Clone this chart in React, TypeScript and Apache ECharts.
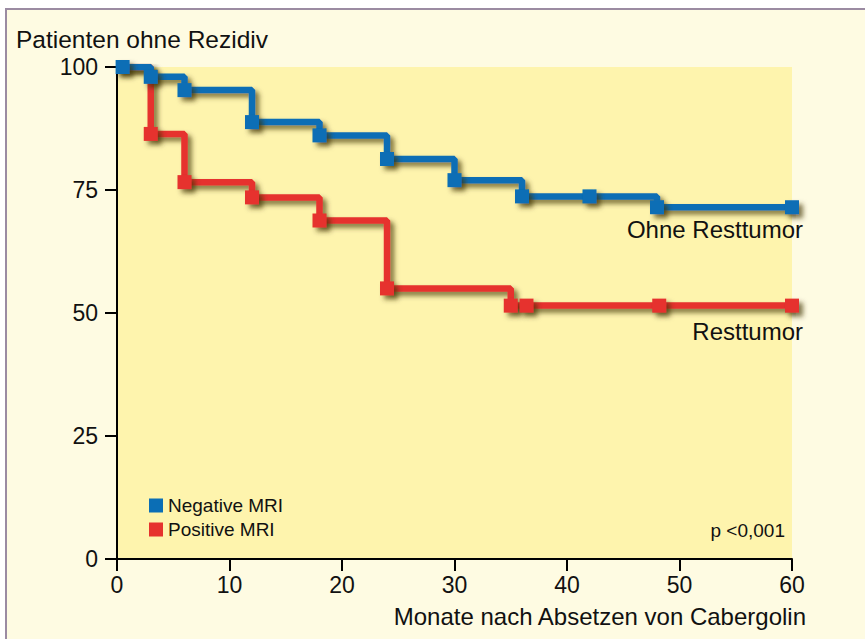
import React, { useEffect, useRef } from "react";
import * as echarts from "echarts";

// Months after stopping cabergoline
const negTimes = [0, 0.5, 3, 6, 12, 18, 24, 30, 36, 42, 48, 60];
const negValues = [100, 100, 98.0, 95.3, 88.8, 86.1, 81.3, 77.0, 73.7, 73.7, 71.5, 71.5];
const negMarks = [false, true, true, true, true, true, true, true, true, true, true, true];

const posTimes = [0, 3, 6, 12, 18, 24, 35, 36.4, 48.2, 60];
const posValues = [100, 86.4, 76.6, 73.5, 68.8, 55.0, 51.5, 51.5, 51.5, 51.5];
const posMarks = [false, true, true, true, true, true, true, true, true, true];

const xTicks = [0, 10, 20, 30, 40, 50, 60];
const yTicks = [0, 25, 50, 75, 100];

const seriesNames = ["Negative MRI", "Positive MRI"];
const curveLabels = ["Ohne Resttumor", "Resttumor"];
const titleText = "Patienten ohne Rezidiv";
const xAxisTitle = "Monate nach Absetzen von Cabergolin";
const pText = "p <0,001";

const BLUE = "#0B6EB5";
const RED = "#E6332D";
const FONT = "Liberation Sans, Arial, Helvetica, sans-serif";

function buildData(times: number[], values: number[], marks: boolean[]) {
  return times.map((t, i) =>
    marks[i] ? { value: [t, values[i]] } : { value: [t, values[i]], symbol: "none" }
  );
}

export default function App() {
  const ref = useRef<HTMLDivElement>(null);

  useEffect(() => {
    if (!ref.current) return;
    const chart = echarts.init(ref.current, undefined, { renderer: "svg" });
    const shadow = {
      shadowColor: "rgba(60,50,0,0.65)",
      shadowBlur: 5,
      shadowOffsetX: 4,
      shadowOffsetY: 4,
    };
    const lineSeries = (name: string, color: string, data: any[], z: number) => ({
      name,
      type: "line",
      step: "end",
      data,
      z,
      symbol: "rect",
      symbolSize: 14,
      showSymbol: true,
      showAllSymbol: true,
      color,
      lineStyle: { color, width: 6.5, ...shadow },
      itemStyle: { color, ...shadow },
      emphasis: { disabled: true },
    });
    chart.setOption({
      animation: false,
      textStyle: { fontFamily: FONT },
      grid: {
        left: 117,
        right: 73,
        top: 67,
        bottom: 80,
        show: true,
        backgroundColor: "#FEF4AD",
        borderWidth: 0,
      },
      legend: {
        data: seriesNames,
        orient: "vertical",
        left: 149,
        top: 496,
        padding: 0,
        icon: "rect",
        itemWidth: 14,
        itemHeight: 14,
        itemGap: 5,
        selectedMode: false,
        textStyle: { fontSize: 19, color: "#111", fontFamily: FONT, lineHeight: 14 },
      },
      xAxis: {
        type: "value",
        min: 0,
        max: 60,
        interval: 10,
        axisLine: { show: true, onZero: false, lineStyle: { color: "#000", width: 2 } },
        axisTick: { show: true, inside: false, length: 12, lineStyle: { color: "#000", width: 2 } },
        axisLabel: {
          margin: 14,
          fontSize: 23,
          color: "#111",
          fontFamily: FONT,
          customValues: xTicks,
        },
        splitLine: { show: false },
      },
      yAxis: {
        type: "value",
        min: 0,
        max: 100,
        interval: 25,
        axisLine: { show: true, onZero: false, lineStyle: { color: "#000", width: 2 } },
        axisTick: { show: true, inside: false, length: 12, lineStyle: { color: "#000", width: 2 } },
        axisLabel: {
          margin: 19,
          fontSize: 23,
          color: "#111",
          fontFamily: FONT,
          customValues: yTicks,
        },
        splitLine: { show: false },
      },
      graphic: [
        {
          type: "text",
          left: 16,
          top: 27,
          style: { text: titleText, fontSize: 24.5, fill: "#111", fontFamily: FONT },
        },
        {
          type: "text",
          x: 803,
          y: 229,
          style: {
            text: curveLabels[0],
            fontSize: 24,
            fill: "#111",
            fontFamily: FONT,
            textAlign: "right",
            textVerticalAlign: "middle",
          },
        },
        {
          type: "text",
          x: 803,
          y: 331,
          style: {
            text: curveLabels[1],
            fontSize: 24,
            fill: "#111",
            fontFamily: FONT,
            textAlign: "right",
            textVerticalAlign: "middle",
          },
        },
        {
          type: "text",
          x: 806,
          y: 616,
          style: {
            text: xAxisTitle,
            fontSize: 24,
            fill: "#111",
            fontFamily: FONT,
            textAlign: "right",
            textVerticalAlign: "middle",
          },
        },
        {
          type: "text",
          x: 785,
          y: 530,
          style: {
            text: pText,
            fontSize: 19,
            fill: "#111",
            fontFamily: FONT,
            textAlign: "right",
            textVerticalAlign: "middle",
          },
        },
      ],
      series: [
        lineSeries(seriesNames[1], RED, buildData(posTimes, posValues, posMarks), 2),
        lineSeries(seriesNames[0], BLUE, buildData(negTimes, negValues, negMarks), 3),
      ],
    });
    return () => chart.dispose();
  }, []);

  return (
    <div
      style={{
        position: "fixed",
        left: 0,
        top: 0,
        width: 865,
        height: 639,
        background: "#FFFFFF",
        overflow: "hidden",
      }}
    >
      <div
        style={{
          position: "absolute",
          left: 5,
          top: 8,
          width: 880,
          height: 660,
          boxSizing: "border-box",
          borderLeft: "2px solid #9B8BA2",
          borderTop: "2px solid #9B8BA2",
          background: "#FEFBE2",
        }}
      />
      <div ref={ref} style={{ position: "absolute", left: 0, top: 0, width: 865, height: 639 }} />
    </div>
  );
}
